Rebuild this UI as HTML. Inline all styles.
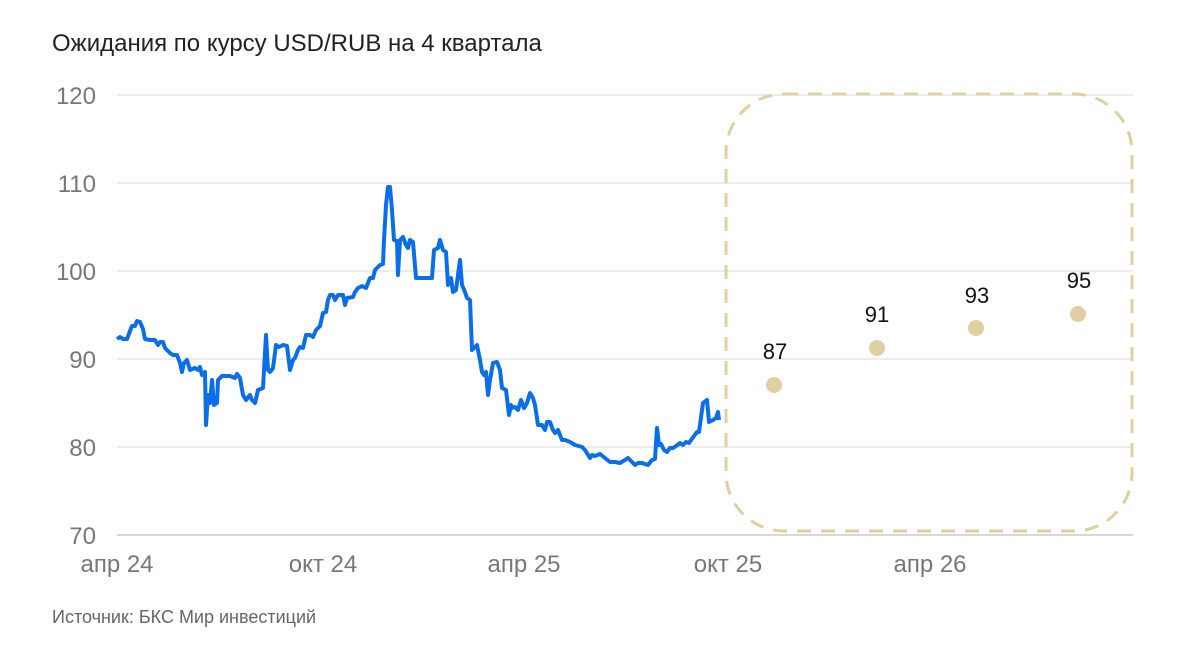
<!DOCTYPE html>
<html><head><meta charset="utf-8"><style>
body{margin:0;background:#fff;}
svg{display:block;font-family:"Liberation Sans","Noto Sans CJK SC",sans-serif;}
</style></head><body>
<svg width="1200" height="658" viewBox="0 0 1200 658">
<text x="52" y="51" font-size="24" fill="#222">Ожидания по курсу USD/RUB на 4 квартала</text>
<g stroke="#e0e0e0" stroke-width="1.2">
<line x1="117" y1="95" x2="1133" y2="95"/><line x1="117" y1="183" x2="1133" y2="183"/>
<line x1="117" y1="271" x2="1133" y2="271"/><line x1="117" y1="359" x2="1133" y2="359"/>
<line x1="117" y1="447" x2="1133" y2="447"/>
</g>
<line x1="117" y1="535" x2="1133" y2="535" stroke="#ccc" stroke-width="1.5"/>
<g font-size="24" fill="#777" text-anchor="end">
<text x="96" y="104">120</text><text x="96" y="192">110</text><text x="96" y="280">100</text>
<text x="96" y="368">90</text><text x="96" y="456">80</text><text x="96" y="544">70</text>
</g>
<g font-size="24" fill="#777" text-anchor="middle">
<text x="117" y="572">апр 24</text><text x="323" y="572">окт 24</text><text x="524" y="572">апр 25</text>
<text x="728" y="572">окт 25</text><text x="930" y="572">апр 26</text>
</g>
<rect x="726" y="94" width="406" height="437" rx="58" ry="58" fill="none" stroke="#e0cfa1" stroke-width="3" stroke-dasharray="14,10"/>
<polyline fill="none" stroke="#0a6ee8" stroke-width="4" stroke-linejoin="round" points="117,339 120,337 123,339 127,339 130,331 132,326 135,326 137,321 140,322 143,329 145,339 150,340 155,340 158,345 160,342 163,342 165,348 170,353 173,355 177,355 180,363 182,372 184,363 187,360 190,370 195,368 198,370 200,367 202,375 205,372 206,425 208,395 210,403 212,380 214,405 217,403 218,380 222,376 230,376 235,378 237,374 240,378 243,395 246,400 250,395 252,400 255,403 258,390 263,388 266,335 268,370 270,372 273,368 276,345 279,347 283,345 287,346 290,370 293,360 295,358 298,350 300,347 303,348 306,335 310,335 313,337 316,330 320,326 323,313 326,312 328,300 330,295 333,295 335,300 338,295 343,295 345,305 347,298 353,297 355,292 358,288 362,286 366,288 370,278 373,278 375,270 380,265 383,264 384,240 386,205 388,187 390,187 392,210 394,240 397,241 398,275 400,240 403,237 406,245 408,248 410,240 413,242 416,278 420,278 432,278 434,250 438,248 440,240 443,250 446,252 448,285 451,278 453,292 456,290 460,260 462,285 465,292 467,298 470,300 472,350 475,347 477,345 480,360 482,372 484,375 486,372 488,395 490,380 493,363 497,362 500,370 502,388 506,390 509,415 511,405 512,408 515,407 518,410 521,400 524,408 527,403 530,393 533,398 535,405 538,425 542,425 545,430 547,422 550,422 553,430 555,433 558,430 562,440 565,440 570,442 575,445 582,447 585,450 590,458 592,455 595,456 600,454 605,458 610,462 615,462 620,463 625,460 628,458 632,462 635,465 638,463 642,463 648,465 652,460 655,459 657,428 659,445 661,444 664,450 667,452 670,448 673,448 676,446 680,443 683,445 686,442 689,443 694,436 697,432 699,432 703,403 707,400 709,422 713,420 716,418 718,412 719,420"/>
<g fill="#e0cfa1">
<circle cx="774" cy="385" r="8"/><circle cx="877" cy="348" r="8"/><circle cx="976" cy="328" r="8"/><circle cx="1078" cy="314" r="8"/>
</g>
<g font-size="22" fill="#111" text-anchor="middle">
<text x="775" y="359">87</text><text x="877" y="322">91</text><text x="977" y="303">93</text><text x="1079" y="288">95</text>
</g>
<text x="52" y="623" font-size="18" fill="#666">Источник: БКС Мир инвестиций</text>
</svg>
</body></html>
